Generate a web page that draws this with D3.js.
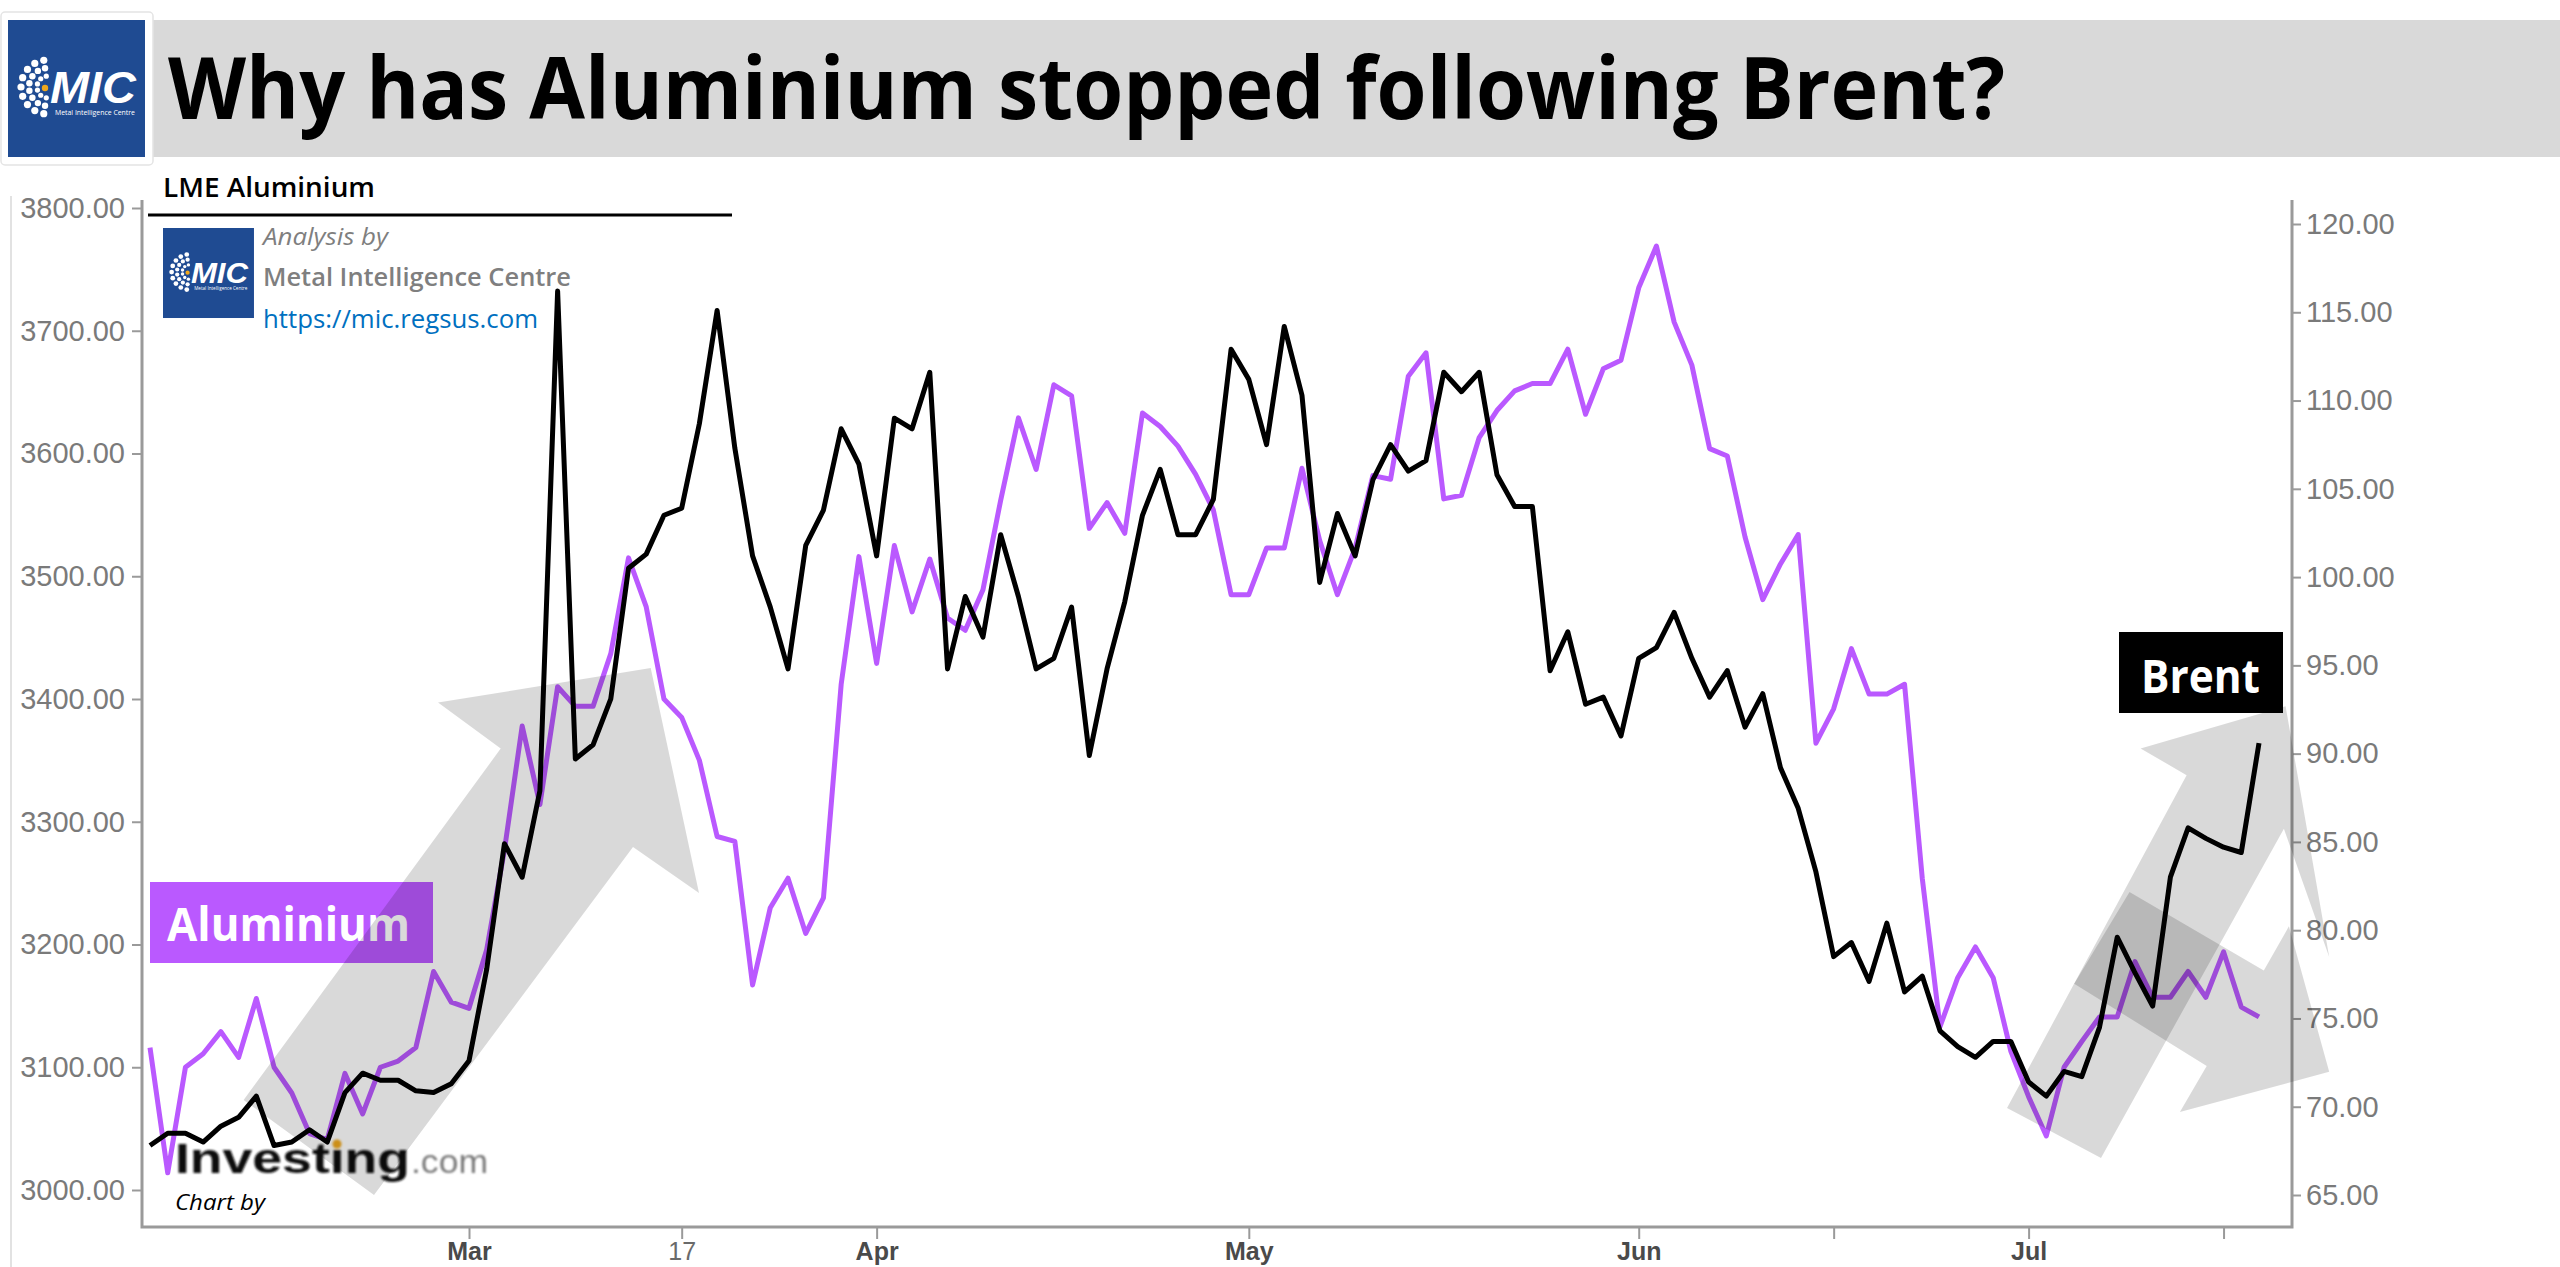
<!DOCTYPE html>
<html>
<head>
<meta charset="utf-8">
<script src="https://cdn.jsdelivr.net/npm/d3@7"></script>
<style>
  body { margin: 0; background: #fff; }
  svg { display: block; }
</style>
</head>
<body>
<svg id="chart" width="2560" height="1267"></svg>
<script>
// LME aluminium (left axis), one value per trading day from 3 Feb
const aluminium = [
  3116, 3014, 3100, 3111, 3129, 3108, 3156, 3100, 3079, 3046,
  3041, 3095, 3062, 3100, 3105, 3116, 3178, 3153, 3148, 3196,
  3277, 3378, 3314, 3410, 3394, 3394, 3437, 3515, 3475, 3400,
  3385, 3350, 3288, 3284, 3167, 3230, 3254, 3209, 3238, 3412,
  3516, 3429, 3525, 3471, 3514, 3466, 3456, 3489, 3562, 3629,
  3587, 3656, 3647, 3539, 3560, 3535, 3633, 3622, 3606, 3583,
  3554, 3485, 3485, 3523, 3523, 3588, 3529, 3485, 3523, 3582,
  3579, 3663, 3682, 3563, 3566, 3613, 3635, 3651, 3657, 3657,
  3685, 3632, 3669, 3676, 3735, 3769, 3707, 3672, 3604, 3598,
  3532, 3481, 3510, 3534, 3364, 3392, 3441, 3404, 3404, 3412,
  3254, 3133, 3173, 3198, 3173, 3113, 3076, 3044, 3100, 3121,
  3141, 3141, 3186, 3157, 3157, 3178, 3157, 3194, 3149, 3141
];

// Brent (right axis), same days
const brent = [
  67.8, 68.5, 68.5, 68.0, 68.9, 69.4, 70.6, 67.8, 68.0, 68.7,
  68.0, 70.8, 71.9, 71.5, 71.5, 70.9, 70.8, 71.3, 72.6, 77.8,
  84.9, 83.0, 87.9, 116.2, 89.7, 90.5, 93.1, 100.5, 101.3, 103.5,
  103.9, 108.7, 115.1, 107.3, 101.2, 98.3, 94.8, 101.8, 103.8, 108.4,
  106.4, 101.2, 109.0, 108.4, 111.6, 94.8, 98.9, 96.6, 102.4, 98.9,
  94.8, 95.4, 98.3, 89.9, 94.8, 98.6, 103.5, 106.1, 102.4, 102.4,
  104.4, 112.9, 111.2, 107.5, 114.2, 110.3, 99.7, 103.6, 101.2, 105.5,
  107.5, 106.0, 106.6, 111.6, 110.5, 111.6, 105.8, 104.0, 104.0, 94.7,
  96.9, 92.8, 93.2, 91.0, 95.4, 96.0, 98.0, 95.4, 93.2, 94.7,
  91.5, 93.4, 89.2, 86.9, 83.3, 78.5, 79.3, 77.1, 80.4, 76.5,
  77.4, 74.3, 73.4, 72.8, 73.7, 73.7, 71.4, 70.6, 72.0, 71.7,
  74.5, 79.6, 77.6, 75.7, 83.0, 85.8, 85.2, 84.7, 84.4, 90.6
];

const leftTicks = [3000, 3100, 3200, 3300, 3400, 3500, 3600, 3700, 3800];
const rightTicks = [65, 70, 75, 80, 85, 90, 95, 100, 105, 110, 115, 120];
const tickDates = ["2022-03-01", "2022-03-17", "2022-04-01", "2022-05-02",
                   "2022-06-01", "2022-06-16", "2022-07-01", "2022-07-18"];
const tickLabels = ["Mar", "17", "Apr", "May", "Jun", "", "Jul", ""];

// trading days (weekdays) covered by the series
const days = d3.timeDay.range(new Date(2022, 1, 3), new Date(2022, 6, 21))
  .filter(d => d.getDay() % 6 !== 0);
const fmtDay = d3.timeFormat("%Y-%m-%d");
const dayIndex = new Map(days.map((d, i) => [fmtDay(d), i]));

const svg = d3.select("#chart");
const frame = { left: 142, right: 2292, top: 200, bottom: 1227 };

const x = d3.scaleLinear().domain([0, days.length - 1]).range([150, 2259]);
const yL = d3.scaleLinear().domain([3000, 3800]).range([1190, 208]);
const yR = d3.scaleLinear().domain([65, 120]).range([1195, 224]);

const PURPLE = "#ba59ff";
const AXIS = "#9a9a9a";

// ---------- header ----------
svg.append("rect").attr("x", 145).attr("y", 20).attr("width", 2415).attr("height", 137)
  .attr("fill", "#d9d9d9");

function drawLogo(g) {
  // drawn in a 137 x 137 box
  g.append("rect").attr("width", 137).attr("height", 137).attr("fill", "#1f4b92");
  const cx = 40, cy = 67;
  [[11, 2.6, 6], [19, 3.2, 8], [27, 3.6, 9]].forEach(([r, dot, n]) => {
    for (let k = 0; k < n; k++) {
      const a = Math.PI * (0.55 + 0.9 * k / (n - 1));
      g.append("circle").attr("cx", cx + r * Math.cos(a)).attr("cy", cy - r * Math.sin(a))
        .attr("r", dot).attr("fill", "#fff");
    }
  });
  g.append("circle").attr("cx", cx - 3).attr("cy", cy + 1).attr("r", 3.2).attr("fill", "#f0a81c");
  g.append("text").attr("x", 42).attr("y", 83)
    .attr("font-family", "Liberation Sans, Arial, sans-serif")
    .attr("font-style", "italic").attr("font-weight", 700).attr("font-size", 44)
    .attr("textLength", 86).attr("lengthAdjust", "spacingAndGlyphs")
    .attr("fill", "#fff").text("MIC");
  g.append("text").attr("x", 47).attr("y", 95)
    .attr("font-family", "Open Sans, sans-serif").attr("font-size", 7.5)
    .attr("textLength", 80).attr("lengthAdjust", "spacingAndGlyphs")
    .attr("fill", "#fff").text("Metal Intelligence Centre");
}

svg.append("rect").attr("x", 1).attr("y", 12).attr("width", 152).attr("height", 153)
  .attr("rx", 4).attr("fill", "#fff").attr("stroke", "#e4e4e4").attr("stroke-width", 1.5);
drawLogo(svg.append("g").attr("transform", "translate(8,20)"));

svg.append("text").attr("x", 168).attr("y", 119)
  .attr("font-family", "Open Sans, sans-serif").attr("font-weight", 700).attr("font-size", 86)
  .attr("textLength", 1837).attr("lengthAdjust", "spacingAndGlyphs")
  .attr("fill", "#000").text("Why has Aluminium stopped following Brent?");

// faint outer frame on the left
svg.append("line").attr("x1", 11).attr("x2", 11).attr("y1", 196).attr("y2", 1267)
  .attr("stroke", "#e2e2e2").attr("stroke-width", 2);

// ---------- axes ----------
const axisFont = "Liberation Sans, Arial, sans-serif";

const gLeft = svg.append("g").attr("transform", `translate(${frame.left},0)`)
  .call(d3.axisLeft(yL).tickValues(leftTicks).tickFormat(d3.format(".2f"))
    .tickSize(10).tickPadding(7));
const gRight = svg.append("g").attr("transform", `translate(${frame.right},0)`)
  .call(d3.axisRight(yR).tickValues(rightTicks).tickFormat(d3.format(".2f"))
    .tickSize(9).tickPadding(5));
const gBottom = svg.append("g").attr("transform", `translate(0,${frame.bottom})`)
  .call(d3.axisBottom(x).tickValues(tickDates.map(d => dayIndex.get(d)))
    .tickFormat((d, i) => tickLabels[i]).tickSize(12).tickPadding(3));

[gLeft, gRight, gBottom].forEach(g => {
  g.select(".domain").remove();
  g.selectAll(".tick line").attr("stroke", AXIS).attr("stroke-width", 2);
  g.selectAll(".tick text").attr("font-family", axisFont).attr("font-size", 29)
    .attr("fill", "#7a7a7a");
});
gBottom.selectAll(".tick text").attr("font-size", 25)
  .attr("font-weight", (d, i) => tickLabels[i] === "17" ? 400 : 700)
  .attr("fill", (d, i) => tickLabels[i] === "17" ? "#6a6a6a" : "#4a4a4a");

svg.append("path")
  .attr("d", `M${frame.left},${frame.top}V${frame.bottom}H${frame.right}V${frame.top}`)
  .attr("fill", "none").attr("stroke", AXIS).attr("stroke-width", 3);

// ---------- series ----------
const lineL = d3.line().x((d, i) => x(i)).y(d => yL(d));
const lineR = d3.line().x((d, i) => x(i)).y(d => yR(d));

svg.append("path").datum(aluminium).attr("d", lineL)
  .attr("fill", "none").attr("stroke", PURPLE).attr("stroke-width", 5)
  .attr("stroke-linejoin", "round");
svg.append("path").datum(brent).attr("d", lineR)
  .attr("fill", "none").attr("stroke", "#000").attr("stroke-width", 5)
  .attr("stroke-linejoin", "round");

// ---------- watermark ----------
const defs = svg.append("defs");
defs.append("filter").attr("id", "soft").append("feGaussianBlur").attr("stdDeviation", 0.9);
const wm = svg.append("g").attr("filter", "url(#soft)");
wm.append("text").attr("x", 175).attr("y", 1173)
  .attr("font-family", axisFont).attr("font-weight", 700).attr("font-size", 42)
  .attr("textLength", 235).attr("lengthAdjust", "spacingAndGlyphs")
  .attr("fill", "#111").text("Investing");
wm.append("text").attr("x", 411).attr("y", 1173)
  .attr("font-family", axisFont).attr("font-size", 34)
  .attr("textLength", 77).attr("lengthAdjust", "spacingAndGlyphs")
  .attr("fill", "#7a7a7a").text(".com");
wm.append("circle").attr("cx", 337).attr("cy", 1144).attr("r", 4.5).attr("fill", "#f0a81c");
svg.append("text").attr("x", 175).attr("y", 1210)
  .attr("font-family", "Open Sans, sans-serif").attr("font-style", "italic").attr("font-size", 22)
  .attr("textLength", 90).attr("lengthAdjust", "spacingAndGlyphs")
  .attr("fill", "#000").text("Chart by");

// ---------- branding block ----------
svg.append("text").attr("x", 163).attr("y", 197)
  .attr("font-family", "Open Sans, sans-serif").attr("font-weight", 600).attr("font-size", 27)
  .attr("textLength", 212).attr("lengthAdjust", "spacingAndGlyphs")
  .attr("fill", "#000").text("LME Aluminium");
svg.append("line").attr("x1", 148).attr("x2", 732).attr("y1", 215).attr("y2", 215)
  .attr("stroke", "#000").attr("stroke-width", 3);
drawLogo(svg.append("g").attr("transform", "translate(163,228) scale(0.664,0.657)"));
svg.append("text").attr("x", 263).attr("y", 245)
  .attr("font-family", "Open Sans, sans-serif").attr("font-style", "italic").attr("font-size", 24)
  .attr("textLength", 125).attr("lengthAdjust", "spacingAndGlyphs")
  .attr("fill", "#7f7f7f").text("Analysis by");
svg.append("text").attr("x", 263).attr("y", 286)
  .attr("font-family", "Open Sans, sans-serif").attr("font-weight", 600).attr("font-size", 25)
  .attr("textLength", 308).attr("lengthAdjust", "spacingAndGlyphs")
  .attr("fill", "#7f7f7f").text("Metal Intelligence Centre");
svg.append("text").attr("x", 263).attr("y", 328)
  .attr("font-family", "Open Sans, sans-serif").attr("font-size", 25)
  .attr("textLength", 275).attr("lengthAdjust", "spacingAndGlyphs")
  .attr("fill", "#0070c0").text("https://mic.regsus.com");

// ---------- series labels ----------
svg.append("rect").attr("x", 150).attr("y", 882).attr("width", 283).attr("height", 81)
  .attr("fill", PURPLE);
svg.append("text").attr("x", 167).attr("y", 941)
  .attr("font-family", "Open Sans, sans-serif").attr("font-weight", 700).attr("font-size", 47)
  .attr("textLength", 243).attr("lengthAdjust", "spacingAndGlyphs")
  .attr("fill", "#fff").text("Aluminium");

// ---------- trend arrows (annotation, pixel layout) ----------
const arrows = [
  [[243.6, 1100], [500.7, 748.6], [438, 702.6], [650.7, 668], [699, 893], [633, 847], [374, 1195]],
  [[2007, 1108], [2186.6, 775.2], [2140.6, 748.4], [2285.6, 706.3], [2329.2, 957], [2283.9, 828.8], [2101, 1157.9]],
  [[2129.5, 891.9], [2263.8, 970.4], [2288.9, 926.3], [2329.2, 1071.8], [2179.9, 1112], [2206.7, 1066], [2074.2, 983.7]]
];
svg.append("g").selectAll("path").data(arrows).join("path")
  .attr("d", d => "M" + d.join("L") + "Z")
  .attr("fill", "#000").attr("fill-opacity", 0.15);

svg.append("rect").attr("x", 2119).attr("y", 632).attr("width", 164).attr("height", 81)
  .attr("fill", "#000");
svg.append("text").attr("x", 2141).attr("y", 693)
  .attr("font-family", "Open Sans, sans-serif").attr("font-weight", 700).attr("font-size", 47)
  .attr("textLength", 119).attr("lengthAdjust", "spacingAndGlyphs")
  .attr("fill", "#fff").text("Brent");
</script>
</body>
</html>
